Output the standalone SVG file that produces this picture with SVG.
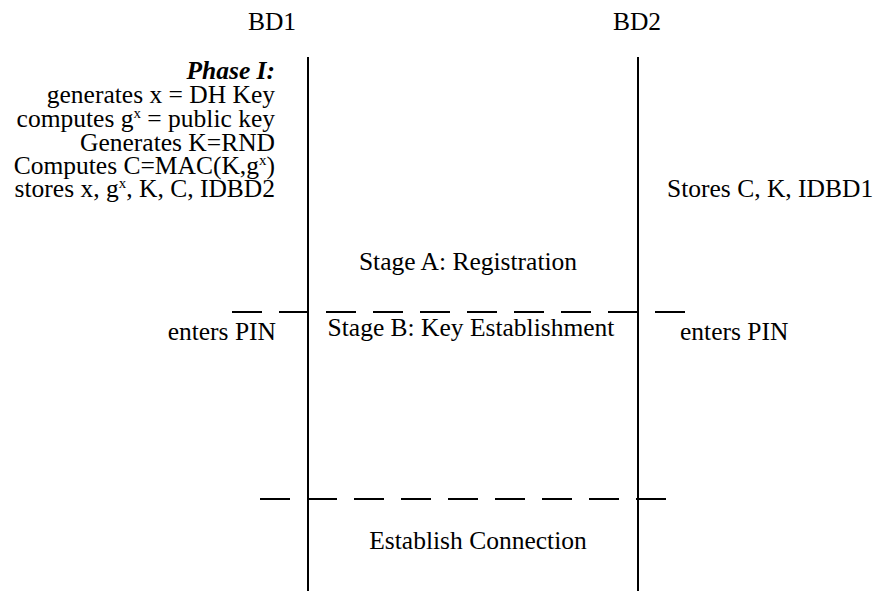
<svg xmlns="http://www.w3.org/2000/svg" width="884" height="591" viewBox="0 0 884 591" font-family="Liberation Serif, Times New Roman, serif">
<style>
text{font-family:'Liberation Serif','Times New Roman',serif;font-size:25.5px;fill:#000}
.r{text-anchor:end}
.m{text-anchor:middle}
.sup{font-size:15px}
.life{stroke:#000;stroke-width:2;fill:none}
.dash{stroke:#000;stroke-width:2;stroke-dasharray:30 17;fill:none}
</style>
<rect width="884" height="591" fill="#fff"/>
<g id="connectors">
<line class="life" x1="308" y1="57" x2="308" y2="591"/>
<line class="life" x1="638" y1="57" x2="638" y2="591"/>
<line class="dash" x1="232" y1="312" x2="690" y2="312"/>
<line class="dash" x1="260" y1="499" x2="670" y2="499"/>
</g>
<g id="bd1"><text class="m" x="272" y="30">BD1</text></g>
<g id="bd2"><text class="m" x="637" y="30">BD2</text></g>
<g id="phase1">
<text class="r" x="275" y="79" font-weight="bold" font-style="italic">Phase I:</text>
<text class="r" x="275" y="103">generates x = DH Key</text>
<text class="r" x="275" y="127">computes g<tspan class="sup" dy="-9">x</tspan><tspan dy="9"> = public key</tspan></text>
<text class="r" x="275" y="151">Generates K=RND</text>
<text class="r" x="275" y="174">Computes C=MAC(K,g<tspan class="sup" dy="-9">x</tspan><tspan dy="9">)</tspan></text>
<text class="r" x="275" y="197">stores x, g<tspan class="sup" dy="-9">x</tspan><tspan dy="9">, K, C, IDBD2</tspan></text>
</g>
<g id="bd2-store"><text x="667" y="197">Stores C, K, IDBD1</text></g>
<g id="stageA"><text class="m" x="468" y="270">Stage A: Registration</text></g>
<g id="stageB"><text class="m" x="471" y="336">Stage B: Key Establishment</text></g>
<g id="pin1"><text class="r" x="276" y="340">enters PIN</text></g>
<g id="pin2"><text x="680" y="340">enters PIN</text></g>
<g id="establish"><text class="m" x="478" y="549">Establish Connection</text></g>
</svg>
